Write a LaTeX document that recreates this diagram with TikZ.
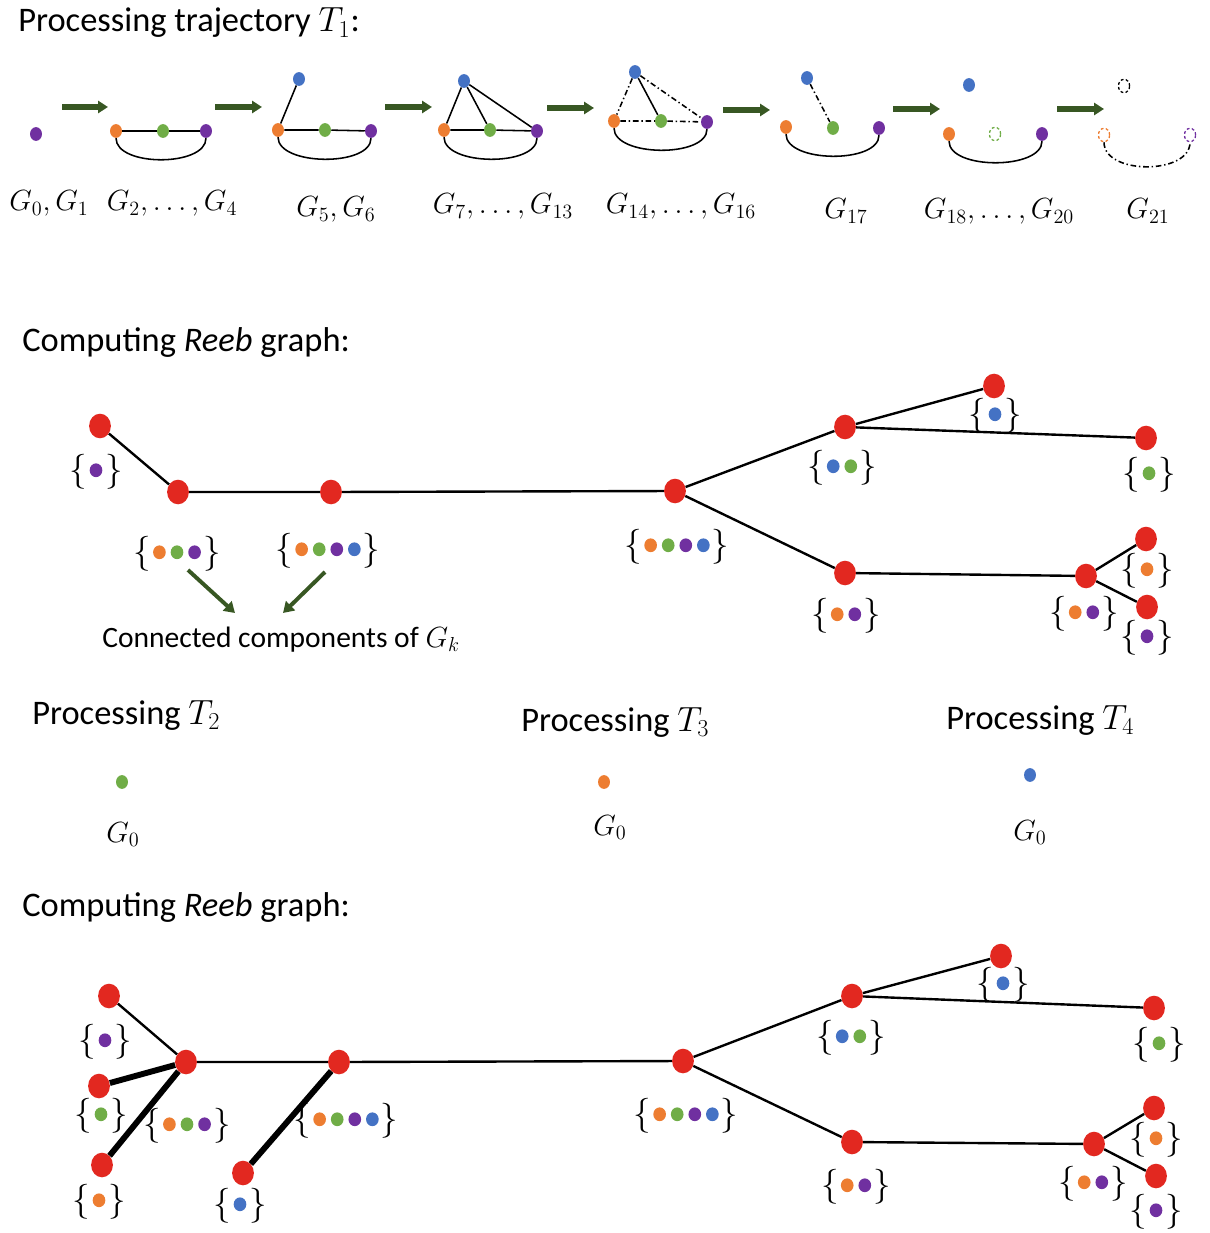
\documentclass[tikz,border=0pt]{standalone}
\usepackage[no-math]{fontspec}
\setmainfont{Carlito}
\usetikzlibrary{shapes.geometric,arrows.meta}
\definecolor{corange}{RGB}{237,125,49}
\definecolor{cgreen}{RGB}{112,173,71}
\definecolor{cpurple}{RGB}{112,48,160}
\definecolor{cblue}{RGB}{68,114,196}
\definecolor{cred}{RGB}{226,40,32}
\definecolor{cdgreen}{RGB}{56,87,35}
\newcommand{\pdot}[1]{\tikz[baseline=-0.6ex]\fill[#1] (0,0) ellipse (4.5pt and 4.9pt);}
\newcommand{\cset}[1]{$\{$\hspace{1.5pt}\foreach \c [count=\i] in {#1}{\ifnum\i>1\hspace{3.5pt}\fi\pdot{\c}}\hspace{1.5pt}$\}$}
\newcommand{\cone}[1]{$\{$\hspace{2pt}\pdot{#1}\hspace{2pt}$\}$}

\begin{document}
\begin{tikzpicture}[x=0.025cm,y=-0.025cm,
  gv/.style={ellipse,minimum width=8.5pt,minimum height=9.8pt,inner sep=0pt,fill=#1},
  gone/.style={ellipse,minimum width=8pt,minimum height=9.5pt,inner sep=0pt,draw=#1,line width=0.9pt,dash pattern=on 2pt off 1.6pt},
  ge/.style={line width=1.1pt},
  gdd/.style={line width=1.1pt,dash pattern=on 4pt off 2pt on 1pt off 2pt},
  bigarrow/.style={cdgreen,line width=4.6pt,-{Triangle[length=7pt,width=8.5pt]}},
  ptr/.style={cdgreen,line width=2.8pt,-{Triangle[length=7.5pt,width=9pt]}},
  rv/.style={ellipse,fill=cred,minimum width=15.5pt,minimum height=17.5pt,inner sep=0pt},
  re/.style={line width=1.7pt},
  rthick/.style={line width=4.2pt},
  cs/.style={inner sep=0pt,font=\fontsize{26}{30}\selectfont},
  head/.style={anchor=base west,inner sep=0pt,font=\fontsize{24.5}{29}\selectfont},
  gl/.style={anchor=base,inner sep=0pt,font=\fontsize{22}{26}\selectfont}]
\useasboundingbox (0,0) rectangle (1209,1233);

\node[head] (t1) at (18,32) {Processing trajectory $T_1$:};
\foreach \xa/\xb/\ya [count=\k] in {62/108/107,215/262/107,385/432/107,547/594/108,723/770/110,893/940/109,1057/1104/109}{
  \coordinate (as\k) at (\xa,\ya); \coordinate (ae\k) at (\xb,\ya);
  \draw[bigarrow] (as\k) -- (ae\k);
}

\node[gv=cpurple] (g0p) at (36,134) {};

\node[gv=corange] (g2o) at (116,131) {};
\node[gv=cgreen] (g2g) at (163,131) {};
\node[gv=cpurple] (g2p) at (206,131) {};
\draw[ge] (g2o) -- (g2g) -- (g2p);
\draw[ge] (g2o) .. controls +(0,36) and +(0,36) .. (g2p);

\node[gv=cblue] (g5b) at (299,79) {};
\node[gv=corange] (g5o) at (278,130) {};
\node[gv=cgreen] (g5g) at (325,130) {};
\node[gv=cpurple] (g5p) at (371,131) {};
\draw[ge] (g5b) -- (g5o) -- (g5g) -- (g5p);
\draw[ge] (g5o) .. controls +(0,36) and +(0,36) .. (g5p);

\node[gv=cblue] (g7b) at (464,81) {};
\node[gv=corange] (g7o) at (444,130) {};
\node[gv=cgreen] (g7g) at (490,130) {};
\node[gv=cpurple] (g7p) at (537,131) {};
\draw[ge] (g7o) -- (g7g) -- (g7p);
\draw[ge] (g7b) -- (g7o) (g7b) -- (g7g) (g7b) -- (g7p);
\draw[ge] (g7o) .. controls +(0,36) and +(0,36) .. (g7p);

\node[gv=cblue] (g14b) at (635,72) {};
\node[gv=corange] (g14o) at (614,121) {};
\node[gv=cgreen] (g14g) at (661,121) {};
\node[gv=cpurple] (g14p) at (707,122) {};
\draw[ge] (g14b) -- (g14g);
\draw[gdd] (g14b) -- (g14o) (g14b) -- (g14p) (g14o) -- (g14g) -- (g14p);
\draw[ge] (g14o) .. controls +(0,36) and +(0,36) .. (g14p);

\node[gv=cblue] (g17b) at (807,78) {};
\node[gv=corange] (g17o) at (786,127) {};
\node[gv=cgreen] (g17g) at (833,128) {};
\node[gv=cpurple] (g17p) at (879,128) {};
\draw[gdd] (g17b) -- (g17g);
\draw[ge] (g17o) .. controls +(0,36) and +(0,36) .. (g17p);

\node[gv=cblue] (g18b) at (969,85) {};
\node[gv=corange] (g18o) at (949,134) {};
\node[gone=cgreen] (g18g) at (995,134) {};
\node[gv=cpurple] (g18p) at (1042,134) {};
\draw[ge] (g18o) .. controls +(0,36) and +(0,36) .. (g18p);

\node[gone=black] (g21b) at (1124,86) {};
\node[gone=corange] (g21o) at (1104,135) {};
\node[gone=cpurple] (g21p) at (1190,135) {};
\draw[gdd] (g21o) .. controls +(0,40) and +(0,40) .. (g21p);

\node[gl] (l0) at (49,211) {$G_0, G_1$};
\node[gl] (l2) at (172,211) {$G_2, \ldots, G_4$};
\node[gl] (l5) at (336,217) {$G_5, G_6$};
\node[gl] (l7) at (503,214) {$G_7, \ldots, G_{13}$};
\node[gl] (l14) at (681,214) {$G_{14}, \ldots, G_{16}$};
\node[gl] (l17) at (846,219) {$G_{17}$};
\node[gl] (l18) at (999,219) {$G_{18}, \ldots, G_{20}$};
\node[gl] (l21) at (1148,219) {$G_{21}$};

\node[head] (t2) at (22,352) {Computing \textit{Reeb} graph:};
\node[rv] (rA) at (100,426) {};
\node[rv] (rB) at (178,492) {};
\node[rv] (rC) at (331,492) {};
\node[rv] (rD) at (675,491) {};
\node[rv] (rE) at (845,427) {};
\node[rv] (rF) at (994,386) {};
\node[rv] (rG) at (1146,438) {};
\node[rv] (rH) at (845,573) {};
\node[rv] (rI) at (1086,576) {};
\node[rv] (rJ) at (1146,539) {};
\node[rv] (rK) at (1147,607) {};
\draw[re] (rA) -- (rB) -- (rC) -- (rD) -- (rE) -- (rF);
\draw[re] (rE) -- (rG) (rD) -- (rH) -- (rI) -- (rJ) (rI) -- (rK);
\node[cs] (sA) at (96,472) {\cone{cpurple}};
\node[cs] (sB) at (177,554) {\cset{corange,cgreen,cpurple}};
\node[cs] (sC) at (328,551) {\cset{corange,cgreen,cpurple,cblue}};
\node[cs] (sD) at (677,547) {\cset{corange,cgreen,cpurple,cblue}};
\node[cs] (sE) at (842,468) {\cset{cblue,cgreen}};
\node[cs] (sF) at (995,416) {\cone{cblue}};
\node[cs] (sG) at (1149,475) {\cone{cgreen}};
\node[cs] (sH) at (846,616) {\cset{corange,cpurple}};
\node[cs] (sI) at (1084,614) {\cset{corange,cpurple}};
\node[cs] (sJ) at (1147,571) {\cone{corange}};
\node[cs] (sK) at (1147,638) {\cone{cpurple}};
\node[anchor=base west,inner sep=0pt,font=\fontsize{21}{25}\selectfont] (cc) at (102,647) {Connected components of $G_k$};
\coordinate (p1s) at (188,570); \coordinate (p1e) at (235,613);
\coordinate (p2s) at (325,572); \coordinate (p2e) at (283,613);
\draw[ptr] (p1s) -- (p1e);
\draw[ptr] (p2s) -- (p2e);

\node[head] (t3) at (32,724) {Processing $T_2$};
\node[head] (t4) at (521,731) {Processing $T_3$};
\node[head] (t5) at (946,729) {Processing $T_4$};
\node[gv=cgreen] (q2) at (122,782) {};
\node[gv=corange] (q3) at (604,782) {};
\node[gv=cblue] (q4) at (1030,775) {};
\node[gl] (m2) at (123,842) {$G_0$};
\node[gl] (m3) at (610,835) {$G_0$};
\node[gl] (m4) at (1030,840) {$G_0$};

\node[head] (t6) at (22,916) {Computing \textit{Reeb} graph:};
\node[rv] (ra) at (109,996) {};
\node[rv] (rb) at (99,1086) {};
\node[rv] (rc) at (102,1165) {};
\node[rv] (rd) at (186,1062) {};
\node[rv] (re) at (339,1062) {};
\node[rv] (rf) at (243,1173) {};
\node[rv] (rg) at (683,1061) {};
\node[rv] (rh) at (852,996) {};
\node[rv] (ri) at (1001,956) {};
\node[rv] (rj) at (1154,1008) {};
\node[rv] (rk) at (852,1142) {};
\node[rv] (rl) at (1094,1144) {};
\node[rv] (rm) at (1154,1108) {};
\node[rv] (rn) at (1156,1176) {};
\draw[re] (ra) -- (rd) -- (re) -- (rg) -- (rh) -- (ri);
\draw[re] (rh) -- (rj) (rg) -- (rk) -- (rl) -- (rm) (rl) -- (rn);
\draw[rthick] (rb) -- (rd) (rc) -- (rd) (re) -- (rf);
\node[cs] (sa) at (105,1042) {\cone{cpurple}};
\node[cs] (sb) at (101,1116) {\cone{cgreen}};
\node[cs] (sc) at (99,1202) {\cone{corange}};
\node[cs] (sd) at (187,1126) {\cset{corange,cgreen,cpurple}};
\node[cs] (se) at (346,1121) {\cset{corange,cgreen,cpurple,cblue}};
\node[cs] (sf) at (240,1206) {\cone{cblue}};
\node[cs] (sg) at (686,1116) {\cset{corange,cgreen,cpurple,cblue}};
\node[cs] (sh) at (851,1038) {\cset{cblue,cgreen}};
\node[cs] (si) at (1003,985) {\cone{cblue}};
\node[cs] (sj) at (1159,1045) {\cone{cgreen}};
\node[cs] (sk) at (856,1187) {\cset{corange,cpurple}};
\node[cs] (sl) at (1093,1184) {\cset{corange,cpurple}};
\node[cs] (sm) at (1156,1140) {\cone{corange}};
\node[cs] (sn) at (1156,1212) {\cone{cpurple}};
\end{tikzpicture}
\end{document}
